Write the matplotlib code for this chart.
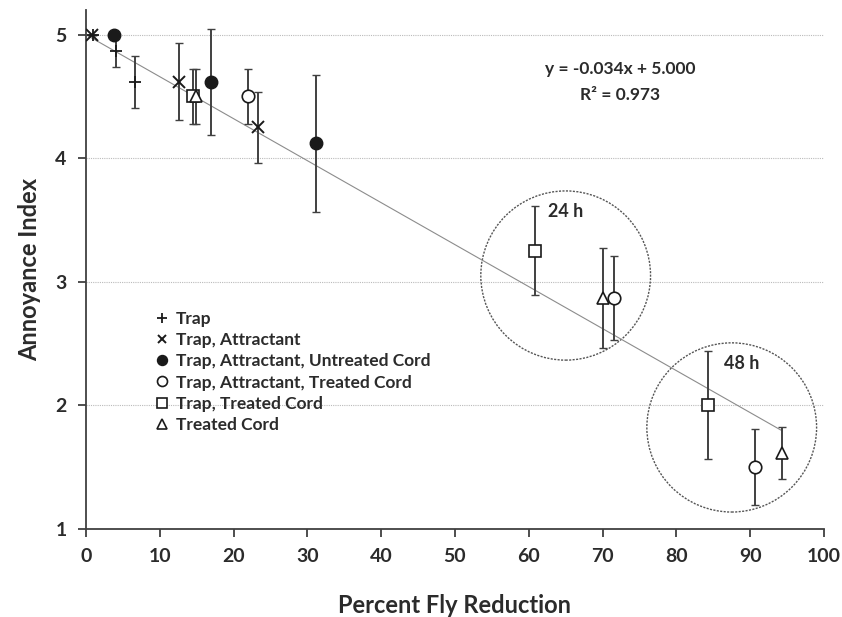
import numpy as np
import matplotlib
matplotlib.use("Agg")
import matplotlib.pyplot as plt
from matplotlib.patches import Ellipse

plt.rcParams['font.family'] = ['Lato', 'DejaVu Sans']
plt.rcParams['font.weight'] = 'bold'

# data: (x, y, err)
trap_x = [1.0, 4.1, 6.6]
trap_y = [5.0, 4.87, 4.62]
trap_e = [0.0, 0.13, 0.21]

attr_x = [0.8, 12.6, 23.3]
attr_y = [5.0, 4.62, 4.25]
attr_e = [0.0, 0.31, 0.29]

untreated_x = [3.8, 17.0, 31.2]
untreated_y = [5.0, 4.62, 4.12]
untreated_e = [0.0, 0.43, 0.555]

treated_x = [22.0, 71.6, 90.7]
treated_y = [4.5, 2.87, 1.50]
treated_e = [0.22, 0.34, 0.31]

trapcord_x = [14.5, 60.8, 84.3]
trapcord_y = [4.5, 3.25, 2.0]
trapcord_e = [0.22, 0.36, 0.435]

cord_x = [14.9, 70.1, 94.3]
cord_y = [4.5, 2.87, 1.61]
cord_e = [0.22, 0.405, 0.21]

slope = -0.034
intercept = 5.000
r2 = 0.973

dark = '#2b2b2b'
ecol = '#404040'

fig = plt.figure(figsize=(8.42, 6.17), dpi=100)
ax = fig.add_axes([0.1021, 0.1431, 0.8765, 0.8407])

# trend line
fx = np.array([0, 94.3])
ax.plot(fx, slope * fx + intercept, color='#8c8c8c', lw=0.8, zorder=2)

series = [
    (trap_x, trap_y, trap_e, dict(marker='+', ms=9, mew=1.3, mfc='none'), 'Trap'),
    (attr_x, attr_y, attr_e, dict(marker='x', ms=8, mew=1.4, mfc='none'), 'Trap, Attractant'),
    (untreated_x, untreated_y, untreated_e, dict(marker='o', ms=9, mfc='#1a1a1a', mew=1), 'Trap, Attractant, Untreated Cord'),
    (treated_x, treated_y, treated_e, dict(marker='o', ms=9, mfc='white', mew=1.2), 'Trap, Attractant, Treated Cord'),
    (trapcord_x, trapcord_y, trapcord_e, dict(marker='s', ms=9, mfc='white', mew=1.2), 'Trap, Treated Cord'),
    (cord_x, cord_y, cord_e, dict(marker='^', ms=9, mfc='white', mew=1.2), 'Treated Cord'),
]

handles = []
for xs, ys, es, style, label in series:
    ax.errorbar(xs, ys, yerr=es, fmt='none', ecolor=ecol, elinewidth=1.4,
                capsize=3, capthick=1, zorder=3)
    h, = ax.plot(xs, ys, ls='none', color='#1a1a1a', zorder=4, label=label, **style)
    handles.append(h)

# group circles
for cx, cy, txt, tx, ty in [(65.0, 3.05, '24 h', 65.0, 3.57), (87.5, 1.82, '48 h', 88.9, 2.34)]:
    ax.add_patch(Ellipse((cx, cy), width=2 * 11.5, height=2 * 0.685, fill=False,
                         ec='#555555', lw=1, ls=(0, (1.5, 1)), zorder=1))
    ax.text(tx, ty, txt, ha='center', va='center', fontsize=13, color=dark, fontweight='bold')

ax.text(72.4, 4.72, 'y = -0.034x + 5.000', ha='center', va='center',
        fontsize=12.5, color=dark, fontweight='bold')
ax.text(72.4, 4.51, 'R² = 0.973', ha='center', va='center',
        fontsize=12.5, color=dark, fontweight='bold')

leg = ax.legend(handles=handles, loc='upper left', bbox_to_anchor=(0.075, 0.45),
                frameon=False, handlelength=0.6, handletextpad=0.5, labelspacing=0.3,
                prop={'size': 12.5, 'weight': 'bold'}, markerscale=0.8)
for t in leg.get_texts():
    t.set_color(dark)

ax.set_xlim(0, 100)
ax.set_ylim(1, 5.2)
ax.set_xticks(np.arange(0, 101, 10))
ax.set_yticks([1, 2, 3, 4, 5])
ax.yaxis.grid(True, color='#bbbbbb', lw=0.8, ls=(0, (1, 1)))
ax.set_axisbelow(True)
for s in ['top', 'right']:
    ax.spines[s].set_visible(False)
for s in ['left', 'bottom']:
    ax.spines[s].set_color('#404040')
    ax.spines[s].set_linewidth(1.3)
ax.tick_params(axis='both', colors='#404040', width=1.3, length=6, labelsize=14,
               labelcolor=dark, pad=8)
for lab in ax.get_xticklabels() + ax.get_yticklabels():
    lab.set_fontweight('bold')

ax.set_xlabel('Percent Fly Reduction', fontsize=17, fontweight='bold', color=dark, labelpad=21)
ax.set_ylabel('Annoyance Index', fontsize=17, fontweight='bold', color=dark, labelpad=10)

fig.savefig('out.png', dpi=100)
